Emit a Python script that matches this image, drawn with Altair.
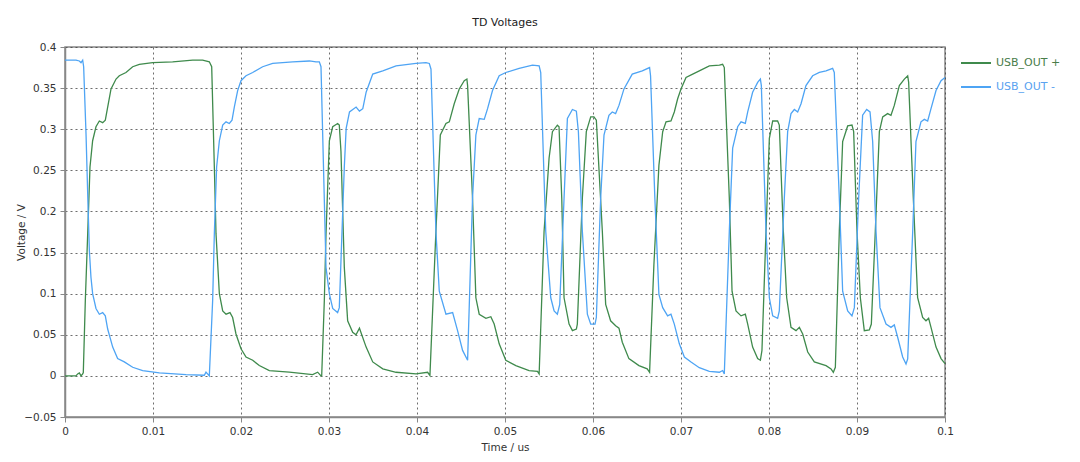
import pandas as pd
import altair as alt

# USB_OUT + (green trace), time in us / voltage in V
t_pos = [0.0, 0.00125, 0.00144, 0.00163, 0.00182, 0.00201, 0.00208, 0.00231, 0.00258, 0.00284,
         0.00314, 0.00352, 0.0039, 0.00428, 0.00458, 0.00485, 0.00523, 0.0058, 0.00617, 0.00693,
         0.00769, 0.00845, 0.00996, 0.01223, 0.01451, 0.01564, 0.0164, 0.01667, 0.01697, 0.01716,
         0.01754, 0.01792, 0.0183, 0.01875, 0.01905, 0.01943, 0.02, 0.02057, 0.02133, 0.02208,
         0.02322, 0.02549, 0.02814, 0.02871, 0.02909, 0.02917, 0.02947, 0.02966, 0.03004, 0.03042,
         0.03098, 0.03117, 0.03136, 0.03174, 0.03212, 0.03269, 0.03307, 0.03346, 0.03422, 0.03497,
         0.03611, 0.03762, 0.03989, 0.04121, 0.04147, 0.04215, 0.04265, 0.04329, 0.04367, 0.04423,
         0.0448, 0.04537, 0.04567, 0.04575, 0.04631, 0.04669, 0.04707, 0.04783, 0.04839, 0.04877,
         0.04934, 0.05009, 0.05123, 0.05274, 0.05369, 0.05388, 0.05444, 0.05501, 0.05539, 0.05595,
         0.05614, 0.05645, 0.05671, 0.05728, 0.05766, 0.05811, 0.05822, 0.05879, 0.05924, 0.05974,
         0.06011, 0.06038, 0.06106, 0.06144, 0.062, 0.06257, 0.06295, 0.06333, 0.06408, 0.06522,
         0.06616, 0.06643, 0.06692, 0.06749, 0.06792, 0.0683, 0.06886, 0.06924, 0.06962, 0.07,
         0.07057, 0.07133, 0.07208, 0.07322, 0.07436, 0.07473, 0.07492, 0.07549, 0.0758, 0.07625,
         0.07682, 0.07731, 0.07758, 0.07814, 0.07871, 0.07902, 0.0792, 0.07966, 0.08004, 0.08042,
         0.08098, 0.08117, 0.08163, 0.08201, 0.0825, 0.08307, 0.08345, 0.08383, 0.0844, 0.08515,
         0.08648, 0.08705, 0.08731, 0.08754, 0.08799, 0.08837, 0.08894, 0.08943, 0.08962, 0.09,
         0.09038, 0.09083, 0.0914, 0.09163, 0.09208, 0.09254, 0.09292, 0.09348, 0.09386, 0.09424,
         0.09481, 0.09538, 0.09576, 0.09587, 0.0964, 0.09689, 0.09746, 0.09784, 0.09814, 0.09841,
         0.09898, 0.09955, 0.1]
v_pos = [0.0, 0.0, 0.0024, 0.0036, 0.0, 0.0024, 0.004, 0.092, 0.173, 0.254,
         0.286, 0.303, 0.310, 0.308, 0.311, 0.327, 0.349, 0.361, 0.365, 0.369,
         0.376, 0.379, 0.381, 0.382, 0.384, 0.384, 0.382, 0.376, 0.254, 0.173,
         0.100, 0.079, 0.075, 0.077, 0.071, 0.051, 0.033, 0.023, 0.019, 0.0126,
         0.0065, 0.0045, 0.0016, 0.0045, 0.0, 0.0, 0.092, 0.173, 0.286, 0.303,
         0.307, 0.305, 0.273, 0.132, 0.067, 0.053, 0.050, 0.058, 0.035, 0.017,
         0.0085, 0.0044, 0.0024, 0.0044, 0.0004, 0.176, 0.293, 0.307, 0.309, 0.331,
         0.349, 0.359, 0.361, 0.353, 0.216, 0.095, 0.075, 0.070, 0.072, 0.063,
         0.039, 0.019, 0.0125, 0.0065, 0.0056, 0.0024, 0.176, 0.265, 0.297, 0.305,
         0.303, 0.216, 0.095, 0.063, 0.055, 0.057, 0.063, 0.216, 0.297, 0.315,
         0.315, 0.311, 0.176, 0.087, 0.067, 0.061, 0.058, 0.041, 0.021, 0.0125,
         0.0085, 0.0044, 0.135, 0.256, 0.297, 0.309, 0.310, 0.321, 0.337, 0.349,
         0.363, 0.367, 0.371, 0.377, 0.378, 0.379, 0.375, 0.216, 0.103, 0.079,
         0.073, 0.075, 0.063, 0.035, 0.021, 0.019, 0.031, 0.176, 0.289, 0.310,
         0.310, 0.305, 0.176, 0.095, 0.059, 0.055, 0.059, 0.051, 0.029, 0.017,
         0.0125, 0.0085, 0.0044, 0.0105, 0.176, 0.285, 0.304, 0.305, 0.297, 0.176,
         0.095, 0.055, 0.056, 0.063, 0.176, 0.297, 0.315, 0.319, 0.317, 0.329,
         0.353, 0.361, 0.365, 0.357, 0.216, 0.095, 0.071, 0.067, 0.070, 0.059,
         0.035, 0.021, 0.015]

# USB_OUT - (blue trace)
t_neg = [0.0, 0.00125, 0.00163, 0.00182, 0.00201, 0.00212, 0.00239, 0.00258, 0.00277, 0.00295,
         0.00314, 0.00352, 0.0039, 0.00428, 0.00458, 0.00485, 0.00542, 0.00598, 0.00674, 0.00769,
         0.00883, 0.01072, 0.01375, 0.01583, 0.01602, 0.0164, 0.01678, 0.01697, 0.01723, 0.01754,
         0.01792, 0.0183, 0.01867, 0.01898, 0.01924, 0.01962, 0.02, 0.02057, 0.02133, 0.02246,
         0.0236, 0.02587, 0.02777, 0.02852, 0.0289, 0.02909, 0.02947, 0.02966, 0.03004, 0.03042,
         0.03098, 0.03117, 0.03174, 0.03195, 0.03233, 0.03308, 0.03346, 0.03384, 0.03422, 0.03497,
         0.03611, 0.03762, 0.03989, 0.04102, 0.0414, 0.04159, 0.04215, 0.04253, 0.04329, 0.04405,
         0.04461, 0.04518, 0.04575, 0.04631, 0.04669, 0.04707, 0.04764, 0.04802, 0.04858, 0.04934,
         0.05009, 0.05161, 0.05312, 0.05388, 0.05406, 0.05463, 0.0552, 0.05558, 0.05595, 0.05622,
         0.05671, 0.05709, 0.05766, 0.05811, 0.05834, 0.05879, 0.05936, 0.05974, 0.06023, 0.06038,
         0.06087, 0.06125, 0.06181, 0.06219, 0.06257, 0.06295, 0.06352, 0.06446, 0.0656, 0.06643,
         0.06654, 0.06703, 0.06749, 0.06792, 0.06848, 0.06886, 0.06924, 0.06981, 0.07038, 0.07114,
         0.07208, 0.07322, 0.07436, 0.07473, 0.07492, 0.07549, 0.07587, 0.07644, 0.07682, 0.07731,
         0.07758, 0.07814, 0.07871, 0.07902, 0.07913, 0.07966, 0.08004, 0.08042, 0.08098, 0.08117,
         0.08174, 0.08212, 0.0825, 0.08288, 0.08326, 0.08364, 0.0842, 0.08496, 0.08572, 0.08648,
         0.08723, 0.08742, 0.08799, 0.08837, 0.08894, 0.08943, 0.0897, 0.09019, 0.09064, 0.0911,
         0.09148, 0.09178, 0.09216, 0.09261, 0.0933, 0.09386, 0.09424, 0.09462, 0.09519, 0.09557,
         0.09576, 0.09633, 0.0967, 0.09727, 0.09765, 0.09803, 0.09841, 0.09898, 0.09955, 0.1]
v_neg = [0.384, 0.384, 0.383, 0.381, 0.384, 0.376, 0.294, 0.221, 0.152, 0.120,
         0.100, 0.082, 0.075, 0.077, 0.073, 0.057, 0.035, 0.021, 0.017, 0.0105,
         0.0065, 0.0036, 0.0016, 0.0008, 0.0045, 0.0, 0.092, 0.173, 0.254, 0.286,
         0.305, 0.309, 0.307, 0.311, 0.327, 0.347, 0.359, 0.365, 0.369, 0.376,
         0.380, 0.382, 0.383, 0.382, 0.382, 0.376, 0.213, 0.132, 0.100, 0.082,
         0.077, 0.083, 0.254, 0.301, 0.321, 0.327, 0.322, 0.325, 0.345, 0.367,
         0.371, 0.377, 0.380, 0.381, 0.380, 0.373, 0.176, 0.103, 0.075, 0.077,
         0.055, 0.031, 0.019, 0.216, 0.293, 0.313, 0.312, 0.325, 0.347, 0.365,
         0.369, 0.374, 0.378, 0.377, 0.369, 0.176, 0.095, 0.079, 0.075, 0.087,
         0.216, 0.313, 0.324, 0.322, 0.297, 0.176, 0.075, 0.063, 0.063, 0.071,
         0.216, 0.293, 0.317, 0.321, 0.319, 0.329, 0.349, 0.367, 0.371, 0.375,
         0.365, 0.216, 0.099, 0.083, 0.073, 0.075, 0.063, 0.039, 0.023, 0.017,
         0.010, 0.0056, 0.0044, 0.0065, 0.0024, 0.176, 0.277, 0.303, 0.309, 0.307,
         0.321, 0.345, 0.357, 0.361, 0.353, 0.176, 0.095, 0.073, 0.070, 0.079,
         0.216, 0.297, 0.319, 0.324, 0.321, 0.331, 0.353, 0.365, 0.369, 0.371,
         0.374, 0.369, 0.216, 0.103, 0.079, 0.073, 0.083, 0.216, 0.317, 0.324,
         0.321, 0.285, 0.176, 0.083, 0.063, 0.059, 0.062, 0.047, 0.023, 0.0145,
         0.0206, 0.176, 0.285, 0.309, 0.312, 0.310, 0.325, 0.347, 0.359, 0.363]

series = ["USB_OUT +", "USB_OUT -"]
colors = ["#3f8a4c", "#4ea4f4"]
x_ticks = [0, 0.01, 0.02, 0.03, 0.04, 0.05, 0.06, 0.07, 0.08, 0.09, 0.1]
y_ticks = [-0.05, 0, 0.05, 0.1, 0.15, 0.2, 0.25, 0.3, 0.35, 0.4]

df = pd.concat([
    pd.DataFrame({"t": t_pos, "v": v_pos, "s": series[0], "o": range(len(t_pos))}),
    pd.DataFrame({"t": t_neg, "v": v_neg, "s": series[1], "o": range(len(t_neg))}),
])

font = "DejaVu Sans"
label_fill = "datum.value === 'USB_OUT +' ? '#4a7d4a' : '#5aa2f0'"

chart = alt.Chart(df).mark_line(strokeWidth=1.3, interpolate="linear").encode(
    x=alt.X("t:Q", title="Time / us",
            scale=alt.Scale(domain=[0, 0.1], nice=False, zero=False),
            axis=alt.Axis(values=x_ticks, format="~g", labelFlush=False)),
    y=alt.Y("v:Q", title="Voltage / V",
            scale=alt.Scale(domain=[-0.05, 0.4], nice=False),
            axis=alt.Axis(values=y_ticks, format="~g", titleX=-44, titleY=185,
                          titleAngle=270, titleAlign="center", titleBaseline="middle")),
    color=alt.Color("s:N", title=None,
                    scale=alt.Scale(domain=series, range=colors),
                    legend=alt.Legend(orient="right", offset=12, symbolType="stroke",
                                      symbolSize=900, symbolStrokeWidth=2, labelFontSize=11,
                                      labelFont=font, rowPadding=3,
                                      labelColor=alt.ExprRef(label_fill))),
    order="o:Q",
).properties(
    width=880,
    height=370,
    title=alt.TitleParams("TD Voltages", fontSize=11, font=font, fontWeight="normal",
                          color="#222", offset=14),
    padding={"left": 57, "top": 39, "right": 127, "bottom": 37},
    autosize=alt.AutoSizeParams(type="none"),
).configure_view(
    stroke="#888", strokeWidth=1.5
).configure_axis(
    grid=True, gridColor="#333", gridDash=[2, 3], gridWidth=0.8, gridOpacity=0.9,
    domainColor="#888", domainWidth=1.5, tickColor="#888", tickSize=5,
    labelFont=font, labelFontSize=10.5, labelColor="#333", labelPadding=4,
    titleFont=font, titleFontSize=10.5, titleFontWeight="normal", titleColor="#333",
).configure_axisX(
    titlePadding=6
)

chart.save("out.html", embed_options={"renderer": "svg", "actions": False})
